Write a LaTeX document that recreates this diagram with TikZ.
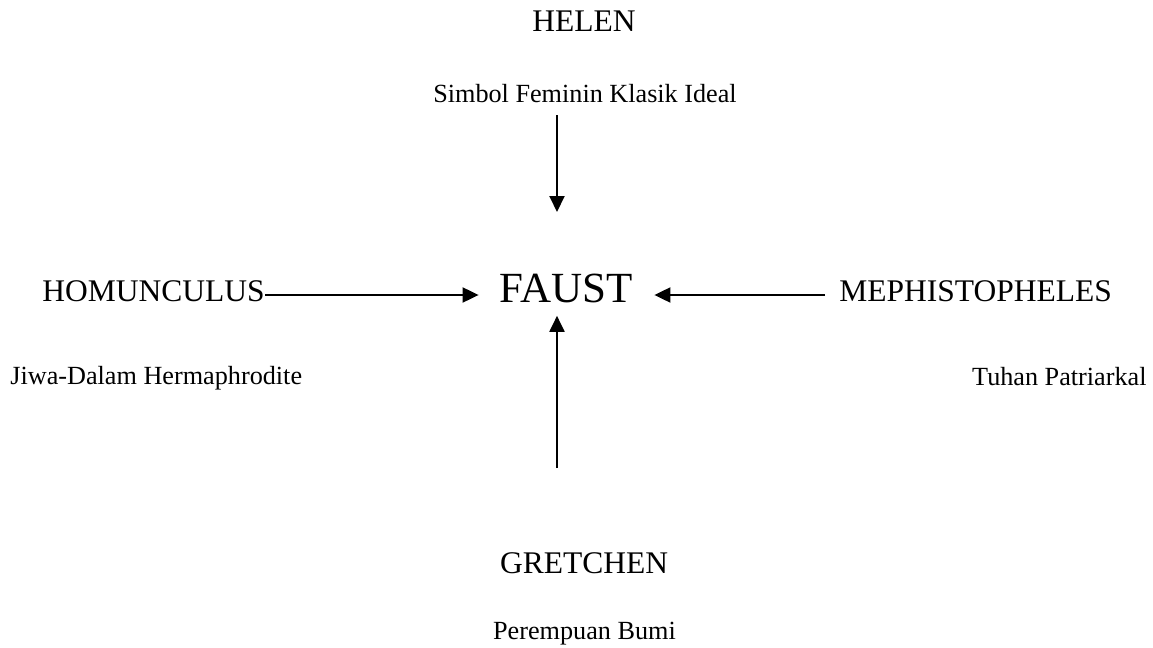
\documentclass[tikz,border=0pt]{standalone}
\usepackage{fontspec}
\setmainfont{Liberation Serif}
\usetikzlibrary{positioning, arrows.meta}

\tikzset{
  charname/.style={inner sep=0pt, anchor=base, font=\fontsize{15.75}{18}\selectfont},
  charrole/.style={inner sep=0pt, anchor=base, font=\fontsize{13.1}{15}\selectfont},
  arr/.style={-{Triangle[length=8pt,width=7.5pt]}, line width=1pt},
}

\begin{document}
\begin{tikzpicture}[x=0.5pt, y=-0.5pt]
\useasboundingbox (0,0) rectangle (1153,648);

% Faust in the middle
\node[inner xsep=10.5pt, inner ysep=6.5pt, anchor=base,
      font=\fontsize{21.5}{24}\selectfont] (faust) at (566.5,302) {FAUST};

% Helen above
\node[charname] (helen) at (584,32) {HELEN};
\node[charrole] (simbol) at (585,102) {Simbol Feminin Klasik Ideal};

% Homunculus left
\node[charname, anchor=base west] (homunculus) at (42,301) {HOMUNCULUS};
\node[charrole, anchor=base west] (jiwa) at (10,384) {Jiwa-Dalam Hermaphrodite};

% Mephistopheles right
\node[charname, anchor=base west] (mephisto) at (839,301) {MEPHISTOPHELES};
\node[charrole, anchor=base east] (tuhan) at (1147,385) {Tuhan Patriarkal};

% Gretchen below
\node[charname] (gretchen) at (584,573) {GRETCHEN};
\node[charrole] (bumi) at (584.5,639) {Perempuan Bumi};

% Arrows into Faust
\coordinate (downtop) at (557,115);
\coordinate (downtip) at (557,212);
\coordinate (upfoot) at (557,468);
\coordinate (lhs) at ([yshift=3pt]homunculus.base east);
\coordinate (rhs) at ([xshift=-7pt,yshift=3pt]mephisto.base west);

\draw[arr] (downtop) -- (downtip);
\draw[arr] (upfoot) -- (faust.south -| upfoot);
\draw[arr] (lhs) -- (lhs -| faust.west);
\draw[arr] (rhs) -- (rhs -| faust.east);
\end{tikzpicture}
\end{document}
